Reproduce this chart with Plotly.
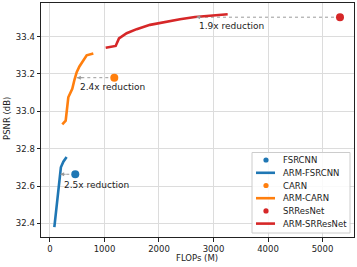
import plotly.graph_objects as go

# Data (FLOPs in M, PSNR in dB)
fsrcnn_flops = [464]
fsrcnn_psnr = [32.663]
arm_fsrcnn_flops = [80, 120, 160, 200, 245, 305]
arm_fsrcnn_psnr = [32.38, 32.48, 32.59, 32.70, 32.73, 32.755]

carn_flops = [1180]
carn_psnr = [33.18]
arm_carn_flops = [226, 260, 288, 336, 409, 450, 490, 540, 581, 673, 795]
arm_carn_psnr = [32.93, 32.94, 32.95, 33.075, 33.12, 33.17, 33.21, 33.24, 33.26, 33.30, 33.31]

srresnet_flops = [5321]
srresnet_psnr = [33.504]
arm_srresnet_flops = [1022, 1205, 1266, 1407, 1590, 1835, 2385, 2660, 3260]
arm_srresnet_psnr = [33.34, 33.35, 33.39, 33.418, 33.44, 33.463, 33.493, 33.505, 33.52]

reductions = [
    # (from_x, y, to_x, label, label_x, label_y)
    (464, 32.663, 186, "2.5x reduction", 215, 32.604),
    (1180, 33.18, 492, "2.4x reduction", 508, 33.132),
    (5321, 33.504, 2680, "1.9x reduction", 2692, 33.459),
]

legend_names = ["FSRCNN", "ARM-FSRCNN", "CARN", "ARM-CARN", "SRResNet", "ARM-SRResNet"]

BLUE, ORANGE, RED = "#1f77b4", "#ff7f0e", "#d62728"
legend_colors = [BLUE, BLUE, ORANGE, ORANGE, RED, RED]
legend_kinds = ["marker", "line", "marker", "line", "marker", "line"]
FONT = "DejaVu Sans"
TXT = "#222222"

W, H = 357, 267
ML, MR, MT, MB = 41, 3, 3, 30
PW, PH = W - ML - MR, H - MT - MB


def px_x(p):
    return (p - ML) / PW


def px_y(p):
    return (H - MB - p) / PH


fig = go.Figure()

# dotted reduction arrows (drawn first, beneath)
for fx, y, tx, label, lx, ly in reductions:
    fig.add_trace(go.Scatter(x=[fx, tx], y=[y, y], mode="lines",
                             line=dict(color="#9a9a9a", width=1, dash="dot"),
                             showlegend=False, hoverinfo="skip"))

fig.add_trace(go.Scatter(x=fsrcnn_flops, y=fsrcnn_psnr, mode="markers", name="FSRCNN",
                         marker=dict(color=BLUE, size=8)))
fig.add_trace(go.Scatter(x=arm_fsrcnn_flops, y=arm_fsrcnn_psnr, mode="lines", name="ARM-FSRCNN",
                         line=dict(color=BLUE, width=2.6)))
fig.add_trace(go.Scatter(x=carn_flops, y=carn_psnr, mode="markers", name="CARN",
                         marker=dict(color=ORANGE, size=8)))
fig.add_trace(go.Scatter(x=arm_carn_flops, y=arm_carn_psnr, mode="lines", name="ARM-CARN",
                         line=dict(color=ORANGE, width=2.6)))
fig.add_trace(go.Scatter(x=srresnet_flops, y=srresnet_psnr, mode="markers", name="SRResNet",
                         marker=dict(color=RED, size=8)))
fig.add_trace(go.Scatter(x=arm_srresnet_flops, y=arm_srresnet_psnr, mode="lines", name="ARM-SRResNet",
                         line=dict(color=RED, width=2.6)))
fig.update_traces(showlegend=False)

for fx, y, tx, label, lx, ly in reductions:
    fig.add_annotation(x=tx, y=y, xref="x", yref="y", ax=7, ay=0, axref="pixel",
                       showarrow=True, arrowhead=2, arrowsize=0.8, arrowwidth=1,
                       arrowcolor="#9a9a9a", text="")
    fig.add_annotation(x=lx, y=ly, xref="x", yref="y", text=label, showarrow=False,
                       xanchor="left", yanchor="middle",
                       font=dict(family=FONT, size=9, color=TXT))

# legend box (matplotlib-style, compact)
fig.add_shape(type="rect", xref="paper", yref="paper",
              x0=px_x(252), x1=px_x(350), y0=px_y(233), y1=px_y(152.5),
              line=dict(color="#cccccc", width=1), fillcolor="rgba(255,255,255,0.85)", layer="above")
row_y = [160, 172.8, 185.5, 198.2, 210.9, 223.6]
for name, col, kind, ry in zip(legend_names, legend_colors, legend_kinds, row_y):
    if kind == "line":
        fig.add_shape(type="line", xref="paper", yref="paper",
                      x0=px_x(256), x1=px_x(275), y0=px_y(ry), y1=px_y(ry),
                      line=dict(color=col, width=2.6), layer="above")
    else:
        r = 2.6
        fig.add_shape(type="circle", xref="paper", yref="paper",
                      x0=px_x(266 - r), x1=px_x(266 + r), y0=px_y(ry + r), y1=px_y(ry - r),
                      line=dict(color=col, width=0), fillcolor=col, layer="above")
    fig.add_annotation(x=px_x(280.5), y=px_y(ry), xref="paper", yref="paper", text=name,
                       showarrow=False, xanchor="left", yanchor="middle",
                       font=dict(family=FONT, size=8.5, color=TXT))

# axis titles
fig.add_annotation(x=px_x(197), y=px_y(258), xref="paper", yref="paper", text="FLOPs (M)",
                   showarrow=False, xanchor="center", yanchor="middle",
                   font=dict(family=FONT, size=8.5, color=TXT))
fig.add_annotation(x=px_x(7), y=px_y(119), xref="paper", yref="paper", text="PSNR (dB)",
                   showarrow=False, xanchor="center", yanchor="middle", textangle=-90,
                   font=dict(family=FONT, size=8.5, color=TXT))

axis_common = dict(showline=True, linecolor=TXT, linewidth=1, mirror=True,
                   ticks="outside", ticklen=3.5, tickcolor=TXT, automargin=False,
                   showgrid=True, gridcolor="#dcdcdc", gridwidth=1, zeroline=False,
                   tickfont=dict(family=FONT, size=8.5, color=TXT))

fig.update_xaxes(range=[-165, 5578], tickvals=[0, 1000, 2000, 3000, 4000, 5000], **axis_common)
fig.update_yaxes(range=[32.327, 33.58], tickvals=[32.4, 32.6, 32.8, 33.0, 33.2, 33.4],
                 tickformat=".1f", **axis_common)

fig.update_layout(
    width=W, height=H,
    margin=dict(l=ML, r=MR, t=MT, b=MB),
    plot_bgcolor="white", paper_bgcolor="white",
    font=dict(family=FONT, size=8.5, color=TXT),
    showlegend=False,
)

fig.write_html("out.html", config={"displayModeBar": False},
               post_script="document.body.style.margin='0';document.body.style.padding='0';"
                           "document.body.style.overflow='hidden';")
